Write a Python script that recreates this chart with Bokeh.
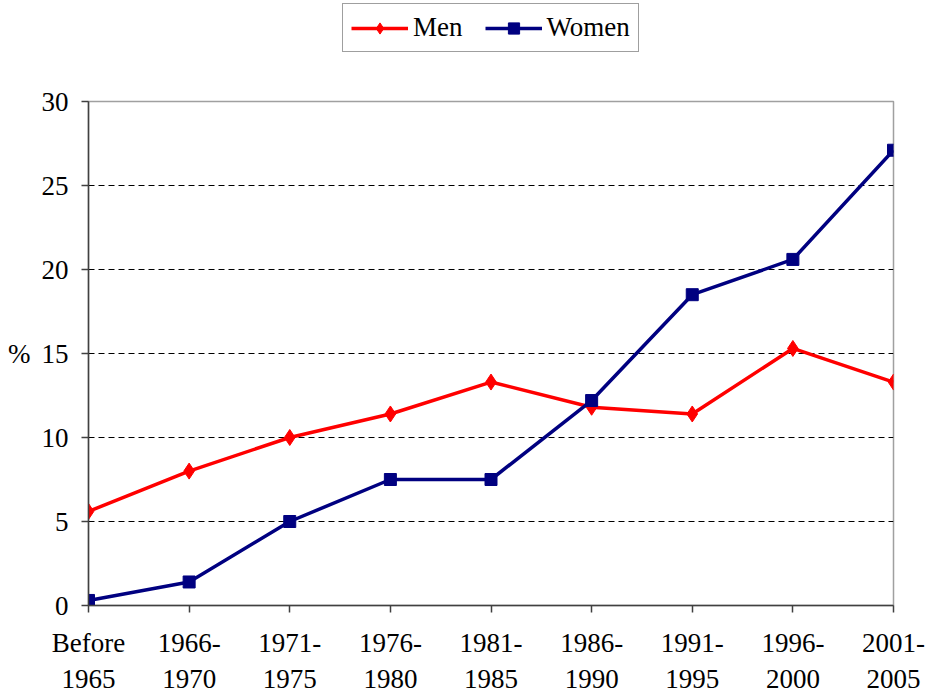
from bokeh.plotting import figure
from bokeh.models import FixedTicker, Legend, LegendItem, Range1d
from bokeh.layouts import column
from bokeh.embed import file_html
from bokeh.resources import INLINE

categories = ["Before\n1965", "1966-\n1970", "1971-\n1975", "1976-\n1980", "1981-\n1985",
              "1986-\n1990", "1991-\n1995", "1996-\n2000", "2001-\n2005"]
men = [5.6, 8.0, 10.0, 11.4, 13.3, 11.8, 11.4, 15.3, 13.3]
women = [0.3, 1.4, 5.0, 7.5, 7.5, 12.2, 18.5, 20.6, 27.1]
y_ticks = [0, 5, 10, 15, 20, 25, 30]
series_names = ["Men", "Women"]
series_colors = ["#ff0000", "#000080"]

FONT = "Liberation Serif"
FS = "27px"
LW = 3.5
MARKERS = ["diamond", "square"]
SIZES = [16, 12]
xs = list(range(len(categories)))

p = figure(width=931, height=618, output_backend="svg", toolbar_location=None,
           x_range=Range1d(0, len(categories) - 1), y_range=Range1d(0, 30),
           min_border_left=88, min_border_right=38, min_border_top=21, min_border_bottom=93)
p.background_fill_color = "white"
p.border_fill_color = "white"
p.outline_line_color = "#a0a0a0"
p.outline_line_width = 1.5

# axes
p.xaxis.ticker = FixedTicker(ticks=xs)
p.xaxis.major_label_overrides = {i: c for i, c in enumerate(categories)}
p.yaxis.ticker = FixedTicker(ticks=y_ticks)
for ax in (p.xaxis[0], p.yaxis[0]):
    ax.axis_line_color = "#404040"
    ax.axis_line_width = 1.5
    ax.major_tick_line_color = "#404040"
    ax.major_tick_line_width = 1.5
    ax.major_tick_in = 0
    ax.major_tick_out = 7
    ax.minor_tick_line_color = None
    ax.major_label_text_font = FONT
    ax.major_label_text_font_size = FS
    ax.major_label_text_color = "black"
p.xaxis.major_label_standoff = 15
p.yaxis.major_label_standoff = 13
p.yaxis.axis_label = "%"
p.yaxis.axis_label_orientation = "horizontal"
p.yaxis.axis_label_text_font = FONT
p.yaxis.axis_label_text_font_size = FS
p.yaxis.axis_label_text_font_style = "normal"
p.yaxis.axis_label_text_color = "black"
p.yaxis.axis_label_standoff = 8

p.xgrid.grid_line_color = None
p.ygrid.ticker = FixedTicker(ticks=[5, 10, 15, 20, 25])
p.ygrid.grid_line_color = "black"
p.ygrid.grid_line_dash = "6 4"
p.ygrid.grid_line_width = 1

# series
for vals, col, mk, sz in zip([men, women], series_colors, MARKERS, SIZES):
    p.line(xs, vals, line_color=col, line_width=LW)
    p.scatter(xs, vals, marker=mk, size=sz, fill_color=col, line_color=col)

# legend strip (separate figure above the chart so the legend is not clipped);
# its ranges are far from the data so its glyphs only appear in the legend
lg = figure(width=931, height=80, output_backend="svg", toolbar_location=None,
            x_range=Range1d(1000, 1001), y_range=Range1d(1000, 1001),
            min_border_left=0, min_border_right=0, min_border_top=0, min_border_bottom=0)
lg.axis.visible = False
lg.grid.visible = False
lg.outline_line_color = None
lg.background_fill_color = "white"
lg.border_fill_color = "white"
items = []
for name, vals, col, mk, sz in zip(series_names, [men, women], series_colors, MARKERS, SIZES):
    rl = lg.line(xs, vals, line_color=col, line_width=LW)
    rm = lg.scatter(xs, vals, marker=mk, size=sz, fill_color=col, line_color=col)
    items.append(LegendItem(label=name, renderers=[rl, rm]))
legend = Legend(items=items, orientation="horizontal", location=(254, 28),
                label_text_font=FONT, label_text_font_size=FS, label_text_color="black",
                glyph_width=57, glyph_height=28, label_standoff=5, spacing=22,
                padding=8, margin=0,
                border_line_color="#404040", border_line_width=1.5,
                background_fill_alpha=1)
lg.add_layout(legend, "center")

layout = column(lg, p, spacing=0)
open("out.html", "w").write(file_html(layout, INLINE))
